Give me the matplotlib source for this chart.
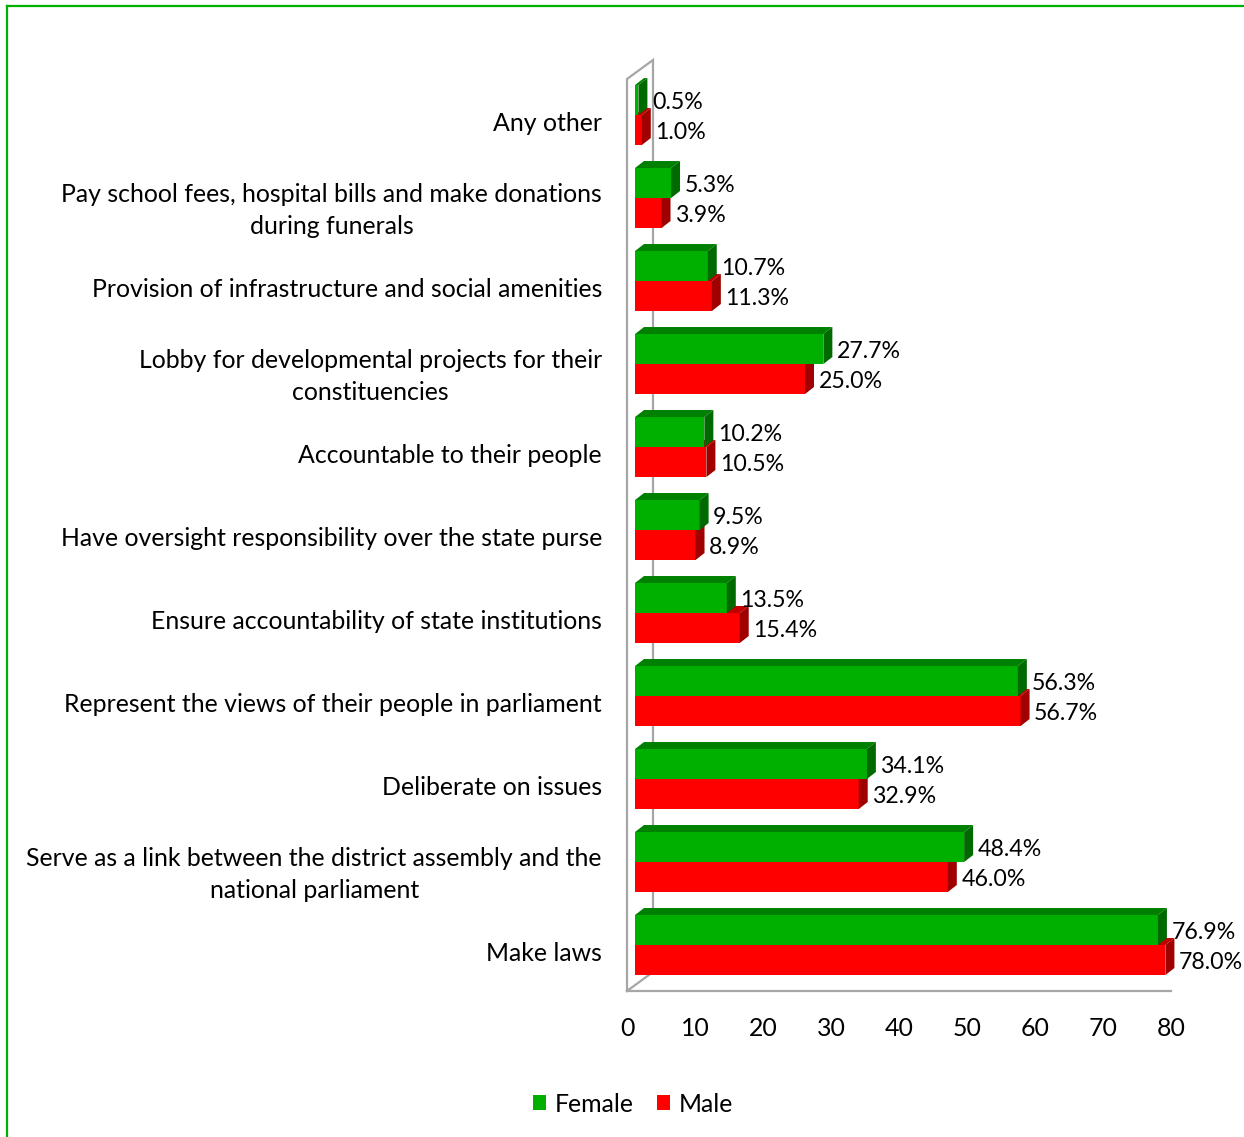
import matplotlib.pyplot as plt
from matplotlib.patches import Polygon, Patch
from matplotlib.lines import Line2D

# roles of MPs, listed top to bottom
categories = [
    "Any other",
    "Pay school fees, hospital bills and make donations\nduring funerals",
    "Provision of infrastructure and social amenities",
    "Lobby for developmental projects for their\nconstituencies",
    "Accountable to their people",
    "Have oversight responsibility over the state purse",
    "Ensure accountability of state institutions",
    "Represent the views of their people in parliament",
    "Deliberate on issues",
    "Serve as a link between the district assembly and the\nnational parliament",
    "Make laws",
]
female = [0.5, 5.3, 10.7, 27.7, 10.2, 9.5, 13.5, 56.3, 34.1, 48.4, 76.9]
male = [1.0, 3.9, 11.3, 25.0, 10.5, 8.9, 15.4, 56.7, 32.9, 46.0, 78.0]
xticks = [0, 10, 20, 30, 40, 50, 60, 70, 80]

plt.rcParams['font.family'] = ['Lato', 'DejaVu Sans']
plt.rcParams['font.size'] = 17.9

W, H = 1244, 1137
fig = plt.figure(figsize=(W / 100, H / 100), dpi=100)
ax = fig.add_axes([627 / W, 1 - 991 / H, 544 / W, 931 / H])
ax.set_xlim(0, 80)
ax.set_ylim(10.554, -0.663)

ux = 80 / 544   # x data units per pixel
uy = 1 / 83     # y data units per pixel

bar_h = 30 * uy
ox = 8 * ux
dx, dy = 9 * ux, 7 * uy


def bar3d(y_top, value, front, top, side):
    x0, x1 = ox, ox + value
    y0, y1 = y_top, y_top + bar_h
    kw = dict(ec='none', clip_on=False, zorder=2)
    ax.add_patch(Polygon([(x0, y0), (x1, y0), (x1, y1), (x0, y1)], fc=front, **kw))
    ax.add_patch(Polygon([(x0, y0), (x1, y0), (x1 + dx, y0 - dy), (x0 + dx, y0 - dy)], fc=top, **kw))
    ax.add_patch(Polygon([(x1, y0), (x1 + dx, y0 - dy), (x1 + dx, y1 - dy), (x1, y1)], fc=side, **kw))


# side wall and floor edge, behind the bars
ybot, ytop = ax.get_ylim()
wx, wy = 26 * ux, 19 * uy
wall = dict(color='#A6A6A6', lw=1.6, clip_on=False, solid_joinstyle='miter', zorder=1)
ax.plot([0, 0, wx, wx, 0], [ybot, ytop + wy, ytop, ybot - wy, ybot], **wall)
ax.plot([0, 80], [ybot, ybot], **wall)

for k, (f, m) in enumerate(zip(female, male)):
    bar3d(k, m, '#FF0000', '#C00000', '#A00000')
    bar3d(k - bar_h, f, '#00B000', '#008000', '#006A00')
    ax.text(ox + f + dx + 4.5 * ux, k - 13 * uy, f'{f:.1f}%', va='center', ha='left',
            fontsize=16.7, zorder=3)
    ax.text(ox + m + dx + 4.5 * ux, k + 17 * uy, f'{m:.1f}%', va='center', ha='left',
            fontsize=16.7, zorder=3)

ax.set_yticks([k + 6 * uy for k in range(len(categories))])
ax.set_yticklabels(categories)
for lab in ax.get_yticklabels():
    lab.set_multialignment('center')
    lab.set_linespacing(1.45)
ax.set_xticks(xticks)
ax.tick_params(axis='y', length=0, pad=18)
ax.tick_params(axis='x', length=0, pad=19)
for s in ax.spines.values():
    s.set_visible(False)

fig.legend(handles=[Patch(fc='#00B000', label='Female'), Patch(fc='#FF0000', label='Male')],
           loc='center', bbox_to_anchor=(633 / W, 1 - 1104 / H), ncol=2, frameon=False,
           handlelength=0.55, handleheight=0.55, handletextpad=0.35, columnspacing=0.9)

# green frame
green = '#00B000'
fig.add_artist(Line2D([7 / W, 1], [1 - 6 / H, 1 - 6 / H], color=green, lw=1.6, transform=fig.transFigure))
fig.add_artist(Line2D([7 / W, 7 / W], [0, 1 - 6 / H], color=green, lw=1.6, transform=fig.transFigure))

fig.savefig('out.png', dpi=100)
